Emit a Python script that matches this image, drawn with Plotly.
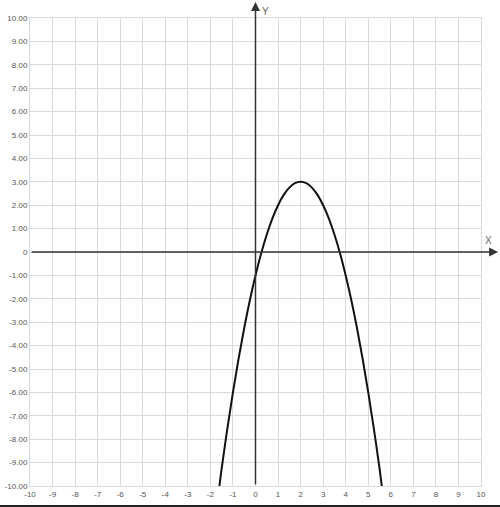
import plotly.graph_objects as go

# Curve points
curve_x = [-1.6, -1.5, -1.25, -1.0, -0.75, -0.5, -0.25, 0.0, 0.25, 0.5, 0.75, 1.0, 1.25, 1.5, 1.75,
           2.0, 2.25, 2.5, 2.75, 3.0, 3.25, 3.5, 3.75, 4.0, 4.25, 4.5, 4.75, 5.0, 5.25, 5.5, 5.6]
curve_y = [-10.0, -9.25, -7.56, -6.0, -4.56, -3.25, -2.06, -1.0, -0.06, 0.75, 1.44, 2.0, 2.44, 2.75, 2.94,
           3.0, 2.94, 2.75, 2.44, 2.0, 1.44, 0.75, -0.06, -1.0, -2.06, -3.25, -4.56, -6.0, -7.56, -9.25, -10.0]

# Tick values and labels
x_tick_vals = list(range(-10, 11))
x_tick_text = [str(v) for v in x_tick_vals]
y_tick_vals = list(range(-10, 11))
y_tick_text = ["0" if v == 0 else f"{v:.2f}" for v in y_tick_vals]

GRID = "#d9d9d9"
AXIS = "#333333"
TICKC = "#555555"
FONT = "Liberation Sans, Arial, sans-serif"

fig = go.Figure()
fig.add_trace(go.Scatter(
    x=curve_x, y=curve_y, mode="lines",
    line=dict(color="#111111", width=2, shape="spline", smoothing=1.0),
    hoverinfo="skip", showlegend=False,
))

fig.update_layout(
    width=500, height=507,
    margin=dict(l=30, r=19, t=18, b=21, autoexpand=False),
    paper_bgcolor="white", plot_bgcolor="white",
    font=dict(family=FONT, size=8, color=TICKC),
    showlegend=False,
    xaxis=dict(
        range=[-10, 10], tickvals=x_tick_vals, ticktext=x_tick_text,
        showgrid=True, gridcolor=GRID, gridwidth=1, zeroline=False,
        showline=True, linecolor=GRID, linewidth=1, mirror=True,
        ticks="", ticklen=0, tickfont=dict(size=8, color=TICKC, family=FONT),
        automargin=False, fixedrange=True,
    ),
    yaxis=dict(
        range=[-10, 10], tickvals=y_tick_vals, ticktext=y_tick_text,
        showgrid=True, gridcolor=GRID, gridwidth=1, zeroline=False,
        showline=True, linecolor=GRID, linewidth=1, mirror=True,
        ticks="", ticklen=0, tickfont=dict(size=8, color=TICKC, family=FONT),
        automargin=False, fixedrange=True,
    ),
    annotations=[
        # X axis with arrow
        dict(xref="paper", yref="y", x=1.038, y=0, ax=-468, ay=0,
             showarrow=True, arrowhead=2, arrowsize=1.2, arrowwidth=1.5,
             arrowcolor=AXIS, text=""),
        # Y axis with arrow
        dict(xref="x", yref="paper", x=0, y=1.034, ax=0, ay=484,
             showarrow=True, arrowhead=2, arrowsize=1.2, arrowwidth=1.5,
             arrowcolor=AXIS, text=""),
        dict(xref="paper", yref="y", x=1.029, y=0, yshift=12, text="X",
             showarrow=False, font=dict(size=10, color="#666666", family=FONT)),
        dict(xref="x", yref="paper", x=0, xshift=10, y=1.03, yshift=0, text="Y",
             showarrow=False, font=dict(size=10, color="#666666", family=FONT)),
    ],
    shapes=[
        dict(type="line", xref="paper", yref="paper", x0=-0.07, x1=1.05,
             y0=-0.0427, y1=-0.0427, line=dict(color="#222222", width=2)),
    ],
)

fig.write_html("out.html",
               config={"displayModeBar": False},
               post_script="document.body.style.margin='0';document.body.style.overflow='hidden';")
